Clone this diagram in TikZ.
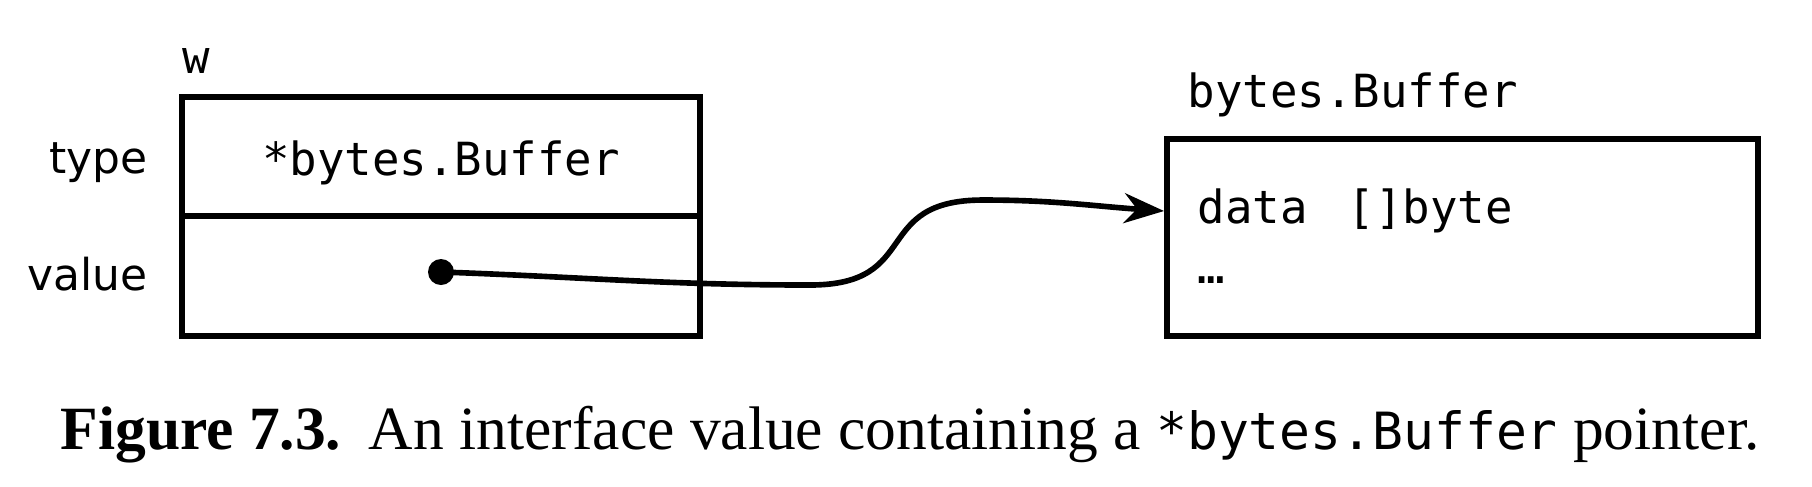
\documentclass[tikz,border=0pt]{standalone}
\usepackage{fontspec}
\setmainfont{Liberation Serif}
\setsansfont{DejaVu Sans}
\setmonofont{DejaVu Sans Mono}
\usetikzlibrary{positioning,arrows.meta}
\tikzstyle{cell} = [rectangle, draw, line width=1.7pt, minimum width=51.8mm, minimum height=11.95mm, text height=4.8mm, text depth=1.1mm, font=\fontsize{13}{16}\ttfamily]
\tikzstyle{record} = [rectangle, draw, line width=1.7pt, minimum width=59.1mm, minimum height=19.7mm]
\tikzstyle{fieldname} = [font=\fontsize{12.5}{15}\sffamily, inner sep=0, text height=4.3mm, text depth=1mm]
\tikzstyle{mono} = [font=\fontsize{13}{16}\ttfamily, inner sep=0]
\tikzstyle{line} = [draw, line width=1.6pt, -{Stealth[length=4mm,width=3mm,inset=1.3mm]}]

\begin{document}
\begin{tikzpicture}[x=0.1mm, y=-0.1mm, node distance = 11.95mm]
\useasboundingbox (0,0) rectangle (1812,486);
\node [cell] (typecell) at (441,156.5) {*bytes.Buffer};
\node [cell, below of=typecell] (valuecell) {};
\node [fieldname, left=3.1mm of typecell] (typelabel) {type};
\node [fieldname, left=3.1mm of valuecell, yshift=0.2mm] (valuelabel) {value};
\node [mono, anchor=base west] (wname) at (182,73) {w};
\node [record] (buffer) at (1462.5,237.5) {};
\node [mono, anchor=base west] (recname) at (1187,107) {bytes.Buffer};
\node [mono, anchor=west] (datafield) at (1197,211) {data\hspace{0.88em}[]byte};
\node [mono, anchor=west] (more) at (1197,280) {…};
\node [circle, fill, inner sep=0, minimum size=2.6mm, yshift=0.4mm] (ptr) at (valuecell.center) {};
% the pointer
\coordinate (bendlow) at (810,285);
\coordinate (bendhigh) at (983,200);
\path [line] (ptr.center) to[out=-2,in=180] (bendlow) to[out=0,in=180,looseness=1.5] (bendhigh) to[out=0,in=176] (buffer.west |- datafield);
% caption
\node [font=\fontsize{17.5}{20}\selectfont, inner sep=0, anchor=base] (caption) at (910,449) {\textbf{Figure 7.3.}\hspace{0.45em}An interface value containing a {\fontsize{14.6}{20}\ttfamily *bytes.Buffer} pointer.};
\end{tikzpicture}
\end{document}
